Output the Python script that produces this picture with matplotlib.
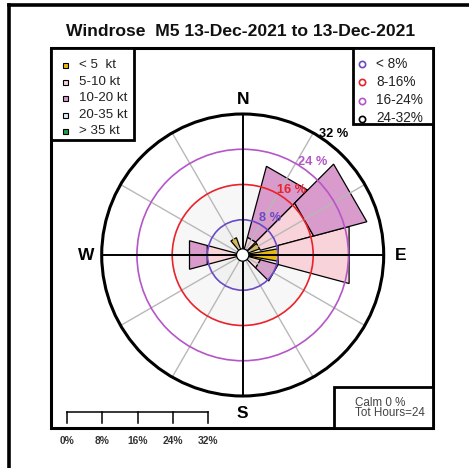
import numpy as np
import matplotlib
matplotlib.use("Agg")
import matplotlib.pyplot as plt
from matplotlib.patches import Polygon, Circle, Rectangle

# ---------------- data ----------------
directions = [0, 30, 60, 90, 120, 150, 180, 210, 240, 270, 300, 330]
speed_classes = ["< 5  kt", "5-10 kt", "10-20 kt", "20-35 kt", "> 35 kt"]
speed_colors = ["#E9B912", "#F8D3DA", "#D89BCB", "#DCEEF6", "#1E9E48"]
# percentage of hours per direction, per speed class
lt5 = [0, 0, 4.17, 8.33, 0, 0, 0, 0, 0, 0, 0, 4.17]
s5_10 = [0, 4.17, 12.5, 16.67, 4.17, 0, 0, 0, 0, 8.33, 0, 0]
s10_20 = [0, 16.67, 12.5, 0, 4.17, 0, 0, 0, 0, 4.17, 0, 0]
s20_35 = [0] * 12
gt35 = [0] * 12
ring_values = [8, 16, 24, 32]
ring_colors = ["#6A4BC4", "#E8232B", "#B456C8", "#000000"]
ring_legend = ["< 8%", "8-16%", "16-24%", "24-32%"]
title = "Windrose  M5 13-Dec-2021 to 13-Dec-2021"
calm_text = "Calm 0 %"
hours_text = "Tot Hours=24"

# ---------------- figure ----------------
W, H = 469, 468
fig = plt.figure(figsize=(W / 100, H / 100), dpi=100)
ov = fig.add_axes([0, 0, 1, 1])
ov.set_xlim(0, W)
ov.set_ylim(H, 0)
ov.axis("off")

font = "Liberation Sans"

# outer frame (only top & left visible)
ov.plot([9, 9], [H + 5, 4.5], color="black", lw=2.6, solid_capstyle="projecting")
ov.plot([9, W + 5], [4.5, 4.5], color="black", lw=2.6, solid_capstyle="projecting")

# plot box
bx0, by0, bx1, by1 = 51, 48, 433, 428
ov.add_patch(Rectangle((bx0, by0), bx1 - bx0, by1 - by0, fill=False, lw=2.2, ec="black"))

ov.text(241, 31, title, ha="center", va="center", fontsize=12.6, fontweight="bold",
        family=font, color="#111111")

# main data axes, in percent units, center of rose at (0,0)
scale = 141 / 32.0  # px per percent
cx, cy = 242.7, 255.0
xl = ((bx0 - cx) / scale, (bx1 - cx) / scale)
yl = (-(by1 - cy) / scale, (cy - by0) / scale)
ax = fig.add_axes([bx0 / W, 1 - by1 / H, (bx1 - bx0) / W, (by1 - by0) / H])
ax.set_xlim(*xl)
ax.set_ylim(*yl)
ax.set_aspect("auto")
ax.axis("off")
ax.patch.set_alpha(0)

def pol(r, ang):
    a = np.deg2rad(ang)
    return r * np.sin(a), r * np.cos(a)

# light fills inside inner rings
ax.add_patch(Circle((0, 0), ring_values[1], fc="#F7F7F7", ec="none", zorder=0))
ax.add_patch(Circle((0, 0), ring_values[0], fc="#F1F1F1", ec="none", zorder=0))

# wedges
classes = [lt5, s5_10, s10_20, s20_35, gt35]
half_widths = [10, 15, 15, 15, 15]
for i, d in enumerate(directions):
    base = 0.0
    for ci, cls in enumerate(classes):
        v = cls[i]
        if v <= 0:
            continue
        top = base + v
        hw = half_widths[ci]
        pts = [pol(base, d - hw), pol(top, d - hw), pol(top, d + hw), pol(base, d + hw)]
        ax.add_patch(Polygon(pts, closed=True, fc=speed_colors[ci], ec="black",
                             lw=0.9, zorder=2 + 0.01 * ci))
        base = top

Rmax = ring_values[-1]
# spokes
for d in directions:
    if d % 90 == 0:
        continue
    x, y = pol(Rmax, d)
    ax.plot([0, x], [0, y], color="#B8B8B8", lw=1.0, zorder=3)
# rings
for rv, rc in zip(ring_values, ring_colors):
    lw = 2.2 if rv == Rmax else 1.2
    ax.add_patch(Circle((0, 0), rv, fill=False, ec=rc, lw=lw, zorder=4))
# cross
ax.plot([-Rmax, Rmax], [0, 0], color="black", lw=1.4, zorder=5)
ax.plot([0, 0], [-Rmax, Rmax], color="black", lw=1.4, zorder=5)
# calm circle
ax.add_patch(Circle((0, 0), 1.4, fc="white", ec="black", lw=0.9, zorder=6))

# ring labels
for rv, rc in zip(ring_values, ring_colors):
    x, y = pol(rv + 2.4, 37)
    ax.text(x, y, f"{rv} %", color=rc, fontsize=9.2, fontweight="bold", family=font,
            ha="center", va="center", zorder=7)

# compass letters
for lab, d, off in [("N", 0, 3.4), ("E", 90, 3.8), ("S", 180, 4.0), ("W", 270, 3.6)]:
    x, y = pol(Rmax + off, d)
    ax.text(x, y, lab, fontsize=12.5, fontweight="bold", family=font, ha="center",
            va="center", zorder=7)

# scale bar
sb_y = -(412 - cy) / scale
sb_x0 = (67 - cx) / scale
tick_len = 11 / scale
ax.plot([sb_x0, sb_x0 + Rmax], [sb_y, sb_y], color="black", lw=1.1, clip_on=False)
for rv in [0] + ring_values:
    ax.plot([sb_x0 + rv, sb_x0 + rv], [sb_y, sb_y - tick_len], color="black", lw=1.1,
            clip_on=False)
    ax.text(sb_x0 + rv, -(441 - cy) / scale, f"{rv}%", fontsize=7.4, fontweight="bold",
            family=font, color="#333333", ha="center", va="center", clip_on=False)

# left legend (speed classes)
ov.add_patch(Rectangle((51, 48), 83, 92, fc="white", ec="black", lw=2.0, zorder=3))
rows = [65, 82, 98, 115, 131]
for lab, col, yy in zip(speed_classes, speed_colors, rows):
    ov.add_patch(Rectangle((62.5, yy - 2.5), 5.5, 5, fc=col, ec="black", lw=0.8, zorder=4))
    ov.text(79, yy, lab, fontsize=9.6, family=font, ha="left", va="center",
            color="#222222", zorder=4)

# right legend (rings)
ov.add_patch(Rectangle((353, 48), 80, 76, fc="white", ec="black", lw=2.0, zorder=3))
rows2 = [64, 82, 100.5, 118.5]
for lab, col, yy in zip(ring_legend, ring_colors, rows2):
    ov.plot([362], [yy], marker="o", ms=4.5, mfc="none", mec=col, mew=1.2, zorder=4)
    ov.text(376, yy, lab, fontsize=9.8, family=font, ha="left", va="center",
            color="#222222", zorder=4)

# calm box
ov.add_patch(Rectangle((334, 387), 99, 41, fc="white", ec="black", lw=2.0, zorder=3))
ov.text(355, 402.5, calm_text, fontsize=8.4, family=font, ha="left", va="center",
        color="#444444", zorder=4)
ov.text(355, 413.5, hours_text, fontsize=8.4, family=font, ha="left", va="center",
        color="#444444", zorder=4)

fig.savefig("out.png", dpi=100)
